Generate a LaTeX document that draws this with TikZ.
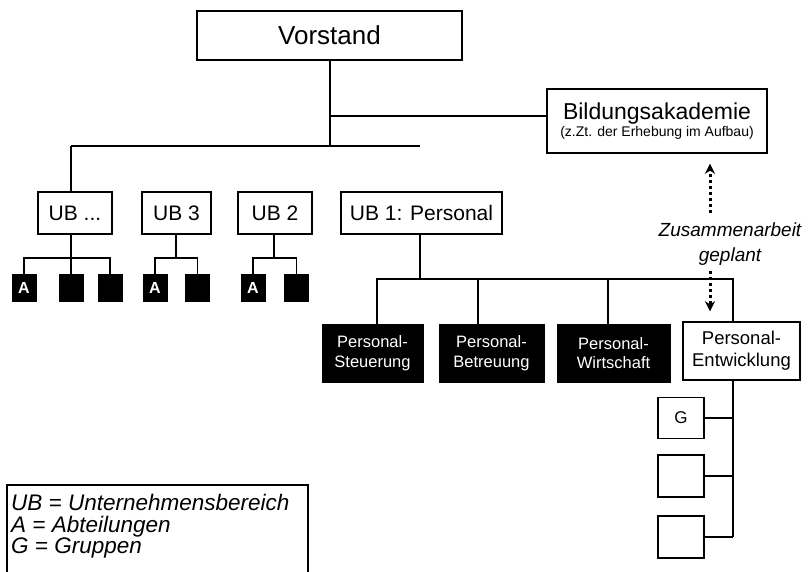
\documentclass[tikz,border=0pt]{standalone}
\usepackage{fontspec}
\setmainfont{Liberation Sans}
\usetikzlibrary{arrows.meta}
\begin{document}
\begin{tikzpicture}[x=1pt,y=-1pt,
  box/.style={draw, line width=1.4pt, inner sep=0pt, align=center},
  dark/.style={draw, fill=black, text=white, line width=1pt, inner sep=0pt, align=center},
  conn/.style={line width=1.2pt},
  dots/.style={line width=3pt, dash pattern=on 3pt off 3pt},
  ub/.style={box, minimum height=42pt, font=\fontsize{21}{24}\selectfont},
  abox/.style={dark, minimum width=24pt, minimum height=27pt, font=\fontsize{16}{18}\selectfont\bfseries},
  pbox/.style={dark, minimum height=58pt, font=\fontsize{16.5}{19.5}\selectfont},
  gbox/.style={box, minimum width=46pt, minimum height=41pt, font=\fontsize{17}{19}\selectfont}]
\useasboundingbox (0,0) rectangle (808,572);
% top
\node[box, minimum width=265pt, minimum height=49pt, font=\fontsize{26}{30}\selectfont] (vor) at (329.5,35.5) {Vorstand};
\node[box, minimum width=220pt, minimum height=64pt] (bild) at (657,121)
  {{\fontsize{23}{26}\selectfont Bildungsakademie}\\[1pt]{\fontsize{14}{16}\selectfont (z.Zt. der Erhebung im Aufbau)}};
% UB row
\node[ub, minimum width=74pt] (ubx) at (75,213) {UB ...};
\node[ub, minimum width=69pt] (ub3) at (176.5,213) {UB 3};
\node[ub, minimum width=74pt] (ub2) at (275,213) {UB 2};
\node[ub, minimum width=161pt] (ub1) at (421.5,213) {UB 1: Personal};
% A boxes
\node[abox] (a1) at (24,287.5) {A};
\node[abox] (a2) at (71,287.5) {};
\node[abox] (a3) at (110,287.5) {};
\node[abox] (a4) at (155,287.5) {A};
\node[abox] (a5) at (197.5,287.5) {};
\node[abox] (a6) at (253,287.5) {A};
\node[abox] (a7) at (296.5,287.5) {};
% Personal boxes
\node[pbox, minimum width=101pt] (ps) at (372.5,353) {Personal-\\Steuerung};
\node[pbox, minimum width=105pt] (pb) at (491.5,353) {Personal-\\Betreuung};
\node[pbox, minimum width=113pt] (pw) at (613.5,353) {Personal-\\Wirtschaft};
\node[box, minimum width=117pt, minimum height=58pt, font=\fontsize{18.5}{22}\selectfont] (pe) at (741.5,351) {Personal-\\Entwicklung};
% G boxes
\node[gbox] (g1) at (681,418) {G};
\node[gbox, minimum height=42pt] (g2) at (681,476) {};
\node[gbox, minimum height=42pt] (g3) at (681,537) {};
% coordinates for the tree
\coordinate (t0) at (330,146);
\coordinate (tb) at (330,116);
\coordinate (hL) at (71,146);
\coordinate (h1) at (420,279);
\coordinate (ax) at (71,258);
\coordinate (a3x) at (176,258);
\coordinate (a2x) at (274,258);
\coordinate (pex) at (733,279);
\coordinate (gend) at (733,537);
% connectors
\draw[conn] (vor.south -| t0) -- (t0);
\draw[conn] (tb) -- (tb -| bild.west);
\draw[conn] (hL) -- (hL -| h1);
\draw[conn] (hL) -- (ubx.north -| hL);
\draw[conn] (ub3.north -| a3x |- hL) -- (ub3.north -| a3x);
\draw[conn] (ub2.north -| a2x |- hL) -- (ub2.north -| a2x);
\draw[conn] (ub1.north -| h1 |- hL) -- (ub1.north -| h1);
% UB ... group
\draw[conn] (ubx.south -| ax) -- (ax);
\draw[conn] (a1.north) -- (a1.north |- ax) -- (a3.north |- ax) -- (a3.north);
\draw[conn] (ax) -- (a2.north);
% UB 3 group
\draw[conn] (ub3.south -| a3x) -- (a3x);
\draw[conn] (a4.north) -- (a4.north |- a3x) -- (a5.north |- a3x) -- (a5.north);
% UB 2 group
\draw[conn] (ub2.south -| a2x) -- (a2x);
\draw[conn] (a6.north) -- (a6.north |- a2x) -- (a7.north |- a2x) -- (a7.north);
% UB 1 group
\coordinate (v1) at (377,279);
\coordinate (v2) at (478,279);
\coordinate (v3) at (608,279);
\draw[conn] (ub1.south -| h1) -- (h1);
\draw[conn] (ps.north -| v1) -- (v1) -- (pex) -- (pe.north -| pex);
\draw[conn] (pb.north -| v2) -- (v2);
\draw[conn] (pw.north -| v3) -- (v3);
% G groups
\draw[conn] (pe.south -| gend) -- (gend);
\draw[conn] (g1.east) -- (g1.east -| gend);
\draw[conn] (g2.east) -- (g2.east -| gend);
\draw[conn] (g3.east) -- (gend);
% cooperation
\node[align=center, font=\fontsize{19}{25}\selectfont\itshape] (zus) at (730,244) {Zusammenarbeit\\geplant};
\coordinate (z1) at (710,213);
\coordinate (z2) at (710,271);
\draw[dots, -{Stealth[length=10pt,width=10pt,inset=3pt]}] (z1) -- ([yshift=-10pt]z1 |- bild.south);
\draw[dots, -{Stealth[length=10pt,width=10pt,inset=3pt]}] (z2) -- ([yshift=10pt]z2 |- pe.north);
% legend
\coordinate (l1) at (7,572);
\coordinate (l2) at (7,485);
\coordinate (l3) at (308,485);
\coordinate (l4) at (308,572);
\draw[line width=1.2pt] (l1) -- (l2) -- (l3) -- (l4);
\node[anchor=north west, align=left, inner sep=0pt, font=\fontsize{22.5}{21.5}\selectfont\itshape] (leg) at (11,494)
  {UB = Unternehmensbereich\\A = Abteilungen\\G = Gruppen};
\end{tikzpicture}
\end{document}
